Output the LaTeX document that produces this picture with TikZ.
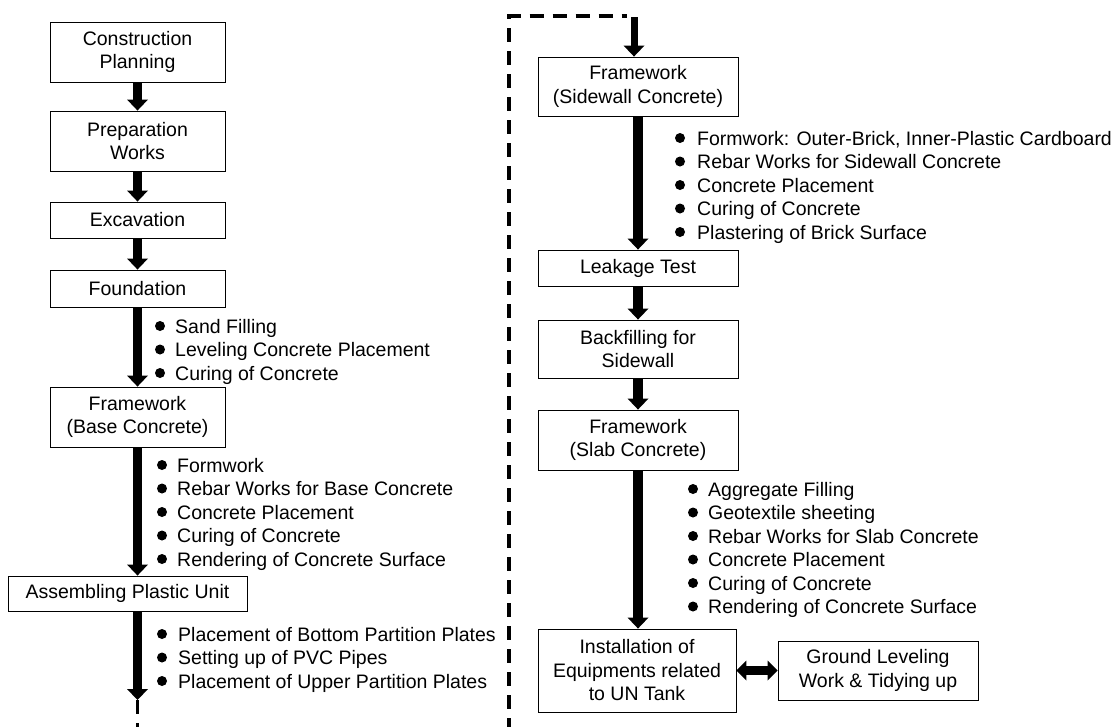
\documentclass[tikz,border=0pt]{standalone}
\usepackage{fontspec}
\setmainfont{Liberation Sans}
\usetikzlibrary{arrows.meta}

% bullet list: #1 name prefix, #2 bullet x, #3 text x, #4 first line y, #5 items
\newcommand\steplist[5]{%
  \foreach \t [count=\i from 0] in {#5} {
    \fill ({#2},{#4+23.5*\i}) circle[radius=5pt];
    \node[item] (#1-\i) at ({#3},{#4+23.5*\i+7}) {\t};
  }}

\begin{document}
\begin{tikzpicture}[x=1pt,y=-1pt,
  every node/.style={font=\fontsize{19.5pt}{23.5pt}\selectfont},
  stepbox/.style={draw=black, line width=0.9pt, align=center, inner sep=0pt},
  item/.style={anchor=base west, inner sep=0pt},
  flow/.style={line width=9.5pt, -{Triangle[length=11pt,width=21pt,line width=0pt]}},
  both/.style={line width=9pt,
    {Triangle[length=10pt,width=20pt,line width=0pt]}-{Triangle[length=10pt,width=20pt,line width=0pt]}},
  link/.style={line width=3.5pt, dash pattern=on 14pt off 9pt}]
\useasboundingbox (0,0) rectangle (1118,726);

% left column
\node[stepbox, minimum width=175pt, minimum height=60pt] (cp)  at (137.5,52)   {Construction\\Planning};
\node[stepbox, minimum width=175pt, minimum height=60pt] (pw)  at (137.5,141)  {Preparation\\Works};
\node[stepbox, minimum width=175pt, minimum height=36pt] (ex)  at (137.5,220)  {Excavation};
\node[stepbox, minimum width=175pt, minimum height=37pt] (fd)  at (137.5,288.5){Foundation};
\node[stepbox, minimum width=175pt, minimum height=60pt] (fb)  at (137.5,417)  {Framework\\(Base Concrete)};
\node[stepbox, minimum width=239pt, minimum height=35pt] (apu) at (127.5,593.5){Assembling Plastic Unit};
\coordinate (lend) at (137.5,700);

% right column
\node[stepbox, minimum width=200pt, minimum height=59pt] (fs)   at (638,86.5) {Framework\\(Sidewall Concrete)};
\node[stepbox, minimum width=200pt, minimum height=36pt] (lt)   at (638,268)  {Leakage Test};
\node[stepbox, minimum width=200pt, minimum height=58pt] (bs)   at (638,349)  {Backfilling for\\Sidewall};
\node[stepbox, minimum width=200pt, minimum height=60pt] (fsc)  at (638,440)  {Framework\\(Slab Concrete)};
\node[stepbox, minimum width=198pt, minimum height=83pt] (inst) at (637,670.5){Installation of\\Equipments related\\to UN Tank};
\node[stepbox, minimum width=200pt, minimum height=59pt] (gl)   at (878,670.5){Ground Leveling\\Work \& Tidying up};
\coordinate (dtop) at (627,16);
\coordinate (fin) at (634,17);

% flow arrows
\draw[flow] (cp) -- (pw);
\draw[flow] (pw) -- (ex);
\draw[flow] (ex) -- (fd);
\draw[flow] (fd) -- (fb);
\draw[flow] (fb.south) -- (fb.south |- apu.north);
\draw[flow] (apu.south -| lend) -- (lend);
\draw[flow, line width=7pt] (fin) -- (fin |- fs.north);
\draw[flow] (fs) -- (lt);
\draw[flow] (lt) -- (bs);
\draw[flow] (bs) -- (fsc);
\draw[flow] (fsc.south) -- (fsc.south |- inst.north);
\draw[both] (inst.east) -- (gl.west);

% dashed link from the end of the left column to the top of the right column
\begin{scope}
  \clip (0,0) rectangle (1118,726);
  \draw[link] (lend) -- (137.5,760) -- (509,760) -- (509,16) -- (dtop);
\end{scope}

% work items
\steplist{fdl}{160}{175}{326}{Sand Filling, Leveling Concrete Placement, Curing of Concrete}
\steplist{fbl}{162}{177}{465}{Formwork, Rebar Works for Base Concrete, Concrete Placement, Curing of Concrete, Rendering of Concrete Surface}
\steplist{apl}{162}{178}{634}{Placement of Bottom Partition Plates, Setting up of PVC Pipes, Placement of Upper Partition Plates}
\steplist{fsl}{680}{697}{138}{{Formwork: Outer-Brick, Inner-Plastic Cardboard}, Rebar Works for Sidewall Concrete, Concrete Placement, Curing of Concrete, Plastering of Brick Surface}
\steplist{scl}{693}{708}{489}{Aggregate Filling, Geotextile sheeting, Rebar Works for Slab Concrete, Concrete Placement, Curing of Concrete, Rendering of Concrete Surface}
\end{tikzpicture}
\end{document}
